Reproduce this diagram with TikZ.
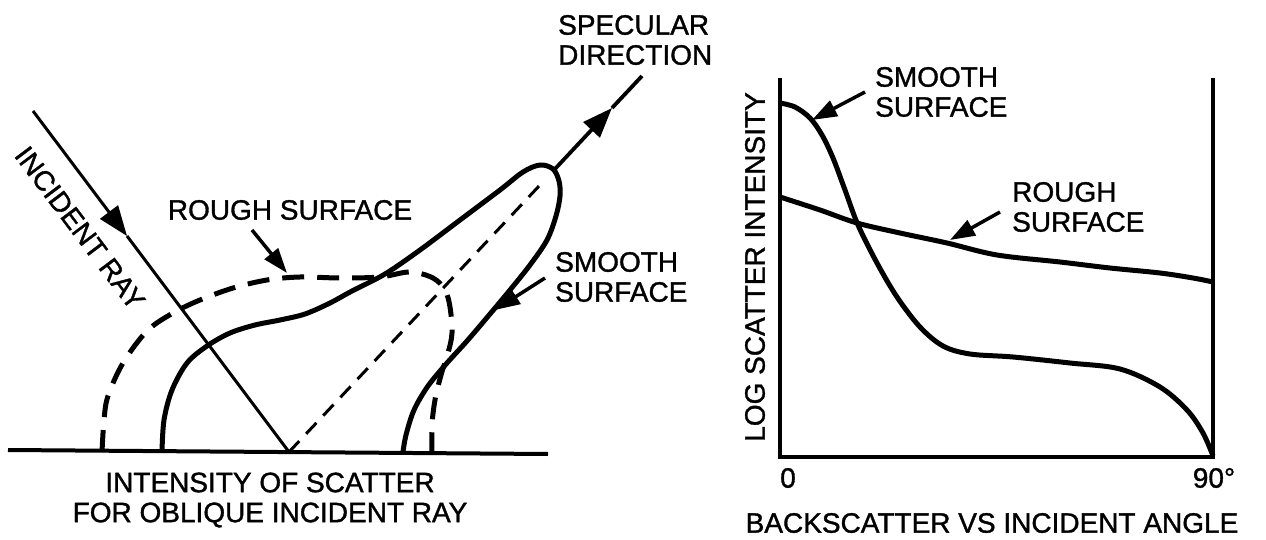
\documentclass[tikz,border=0pt]{standalone}
\usepackage{fontspec}
\setmainfont[FakeBold=1.2]{Liberation Sans}
\usetikzlibrary{arrows.meta}

\begin{document}
\begin{tikzpicture}[x=1pt, y=-1pt,
    lbl/.style={font=\fontsize{28}{30}\selectfont, inner sep=0pt, align=left},
    curve/.style={line width=5pt, line join=round},
    rough/.style={curve, dash pattern=on 22pt off 13pt},
    ray/.style={line width=3pt},
    rayarr/.style={ray, -{Triangle[length=30pt, width=22pt]}},
    ptr/.style={line width=3.5pt, -{Triangle[length=25pt, width=17pt]}},
    axis/.style={line width=4.5pt},
  ]
    \useasboundingbox (0,0) rectangle (1266,540);

    % Left: scatter lobes over the surface
    \draw[line width=4pt] (8,450) -- (548,454);
    \coordinate (refl) at (289,452);
    \coordinate (inStart) at (33,111);
    \coordinate (inMid) at (127,236);
    \coordinate (specEnd) at (540,185);
    \coordinate (specStart) at (554,170);
    \coordinate (specMid) at (612,108);
    \coordinate (specTop) at (642,76);

    % Incident ray and specular direction
    \draw[rayarr] (inStart) -- (inMid);
    \draw[ray] (inMid) -- (refl);
    \draw[ray, dash pattern=on 15pt off 10pt] (refl) -- (specEnd);
    \draw[rayarr, line width=3.8pt] (specStart) -- (specMid);
    \draw[ray, line width=3.8pt] (specMid) -- (specTop);

    % Smooth surface lobe
    \draw[curve] plot[smooth, tension=0.55] coordinates {
      (162,452) (164,420) (172,390) (187,363) (207,346) (230,333) (255,325)
      (280,320) (305,314) (330,303) (352,291) (385,274) (420,250) (460,220)
      (500,190) (523,172) (540,165) (553,169) (559,181) (560,196)
      (556,216) (547,240) (530,265) (510,290) (490,314) (467,341) (447,363)
      (428,386) (414,410) (406,435) (403,452)};

    % Rough surface lobe
    \draw[rough] plot[smooth, tension=0.55] coordinates {
      (102,452) (104,420) (108,396) (123,363) (147,331) (173,313) (200,300)
      (233,288) (267,280) (300,277) (340,278) (380,277) (410,272) (433,278)
      (445,290) (450,307) (452,333) (448,353) (441,375) (435,400) (432,425)
      (432,452)};

    % Labels, left
    \node[lbl, rotate=-53] (incLbl) at (80,228) {INCIDENT RAY};
    \node[lbl] (roughL) at (290,210) {ROUGH SURFACE};
    \node[lbl, anchor=west] (smoothL) at (555,277) {SMOOTH\\SURFACE};
    \node[lbl, anchor=west] (specLbl) at (558,40) {SPECULAR\\DIRECTION};
    \node[lbl, align=center] (capL) at (270,500) {INTENSITY OF SCATTER\\FOR OBLIQUE INCIDENT RAY};

    \coordinate (roughLTail) at (252,230);
    \coordinate (roughLTip) at (287,273);
    \coordinate (smoothLTail) at (545,278);
    \coordinate (smoothLTip) at (495,310);
    \draw[ptr] (roughLTail) -- (roughLTip);
    \draw[ptr] (smoothLTail) -- (smoothLTip);

    % Right: backscatter plot
    \draw[axis] (780,78) -- (780,457) -- (1213,457) -- (1213,78);

    \draw[curve] plot[smooth, tension=0.55] coordinates {
      (780,103) (795,107) (810,118) (822,135) (833,158) (845,190) (858,225)
      (877,263) (897,297) (920,327) (943,346) (970,354) (1013,357) (1070,363)
      (1120,369) (1160,387) (1187,410) (1203,433) (1213,456)};
    \draw[curve] plot[smooth, tension=0.55] coordinates {
      (780,197) (820,210) (857,223) (900,233) (947,243) (997,255) (1060,262)
      (1110,268) (1160,273) (1193,278) (1213,282)};

    \node[lbl, anchor=west] (smoothR) at (875,92) {SMOOTH\\SURFACE};
    \node[lbl, anchor=west] (roughR) at (1012,207) {ROUGH\\SURFACE};
    \coordinate (smoothRTail) at (865,92);
    \coordinate (smoothRTip) at (812,120);
    \coordinate (roughRTail) at (1000,212);
    \coordinate (roughRTip) at (950,240);
    \draw[ptr] (smoothRTail) -- (smoothRTip);
    \draw[ptr] (roughRTail) -- (roughRTip);

    \node[lbl, rotate=90] (yLbl) at (755,267) {LOG SCATTER INTENSITY};
    \node[lbl] (zero) at (788,478) {0};
    \node[lbl] (ninety) at (1214,478) {90°};
    \node[lbl] (capR) at (992,523) {BACKSCATTER VS INCIDENT ANGLE};
  \end{tikzpicture}
\end{document}
